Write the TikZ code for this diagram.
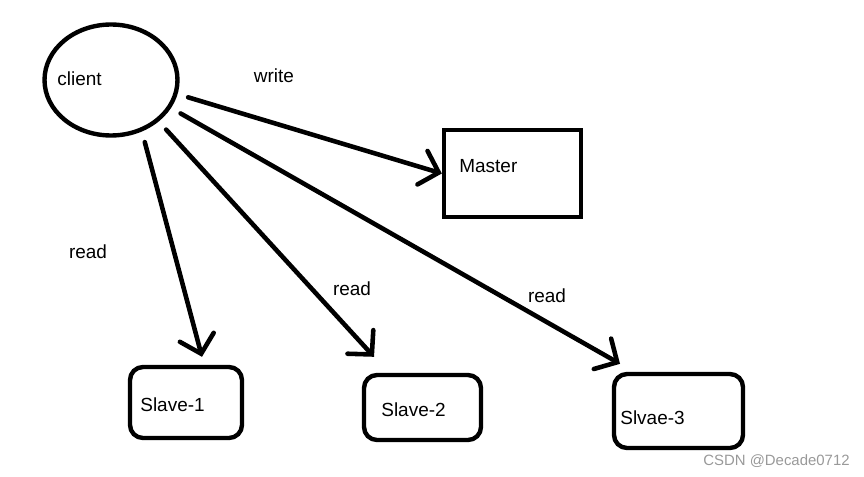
\documentclass[tikz,border=0pt]{standalone}
\usepackage{fontspec}
\setmainfont{Liberation Sans}
\usetikzlibrary{shapes.geometric}
\usetikzlibrary{arrows.meta}
\usetikzlibrary{positioning}

\begin{document}
\begin{tikzpicture}
        [x=0.02cm, y=-0.02cm,
         every node/.style={font=\fontsize{10.8}{12}\selectfont},
         ovalbox/.style={ellipse, draw, line width=2.5pt, inner sep=0pt},
         masterbox/.style={rectangle, draw, line width=2.5pt, inner sep=0pt},
         slavebox/.style={rectangle, draw, line width=2.5pt, inner sep=0pt, rounded corners=0.26cm},
         lbl/.style={inner sep=0pt},
         wm/.style={inner sep=0pt, text=black!40, font=\fontsize{8.5}{10}\selectfont},
         arr/.style={line width=2.6pt, line cap=round, shorten <=0.22cm,
                     -{Straight Barb[length=0.34cm, width=0.7cm, line cap=round]}}]
        \useasboundingbox (0,0) rectangle (864,476);
        \node [ovalbox, minimum width=2.66cm, minimum height=2.22cm] (client) at (111,80) { };
        \node [masterbox, minimum width=2.74cm, minimum height=1.74cm] (master) at (512.5,173.5) { };
        \node [slavebox, minimum width=2.24cm, minimum height=1.42cm] (slave1) at (186,402.5) { };
        \node [slavebox, minimum width=2.34cm, minimum height=1.3cm] (slave2) at (422.5,407.5) { };
        \node [slavebox, minimum width=2.58cm, minimum height=1.48cm] (slave3) at (678.5,411) { };
        \node [lbl, anchor=west] (clienttxt) at (57,79) {client};
        \node [lbl, anchor=west] (mastertxt) at (459,166) {Master};
        \node [lbl, anchor=west] (slave1txt) at (140,405) {Slave-1};
        \node [lbl, anchor=west] (slave2txt) at (381,410) {Slave-2};
        \node [lbl, anchor=west] (slave3txt) at (620,418) {Slvae-3};
        \draw [arr] (client.-12) -- (master.west);
        \draw [arr] (client.-59) -- ([xshift=0.32cm, yshift=0.16cm]slave1.north);
        \draw [arr] (client.-41) -- ([xshift=-0.97cm, yshift=0.32cm]slave2.north);
        \draw [arr] (client.-25) -- ([xshift=-1.17cm, yshift=0.16cm]slave3.north);
        \node [lbl] (writetxt) at (274,76) {write};
        \node [lbl] (read1txt) at (88,252) {read};
        \node [lbl] (read2txt) at (352,289) {read};
        \node [lbl] (read3txt) at (547,296) {read};
        \node [wm, anchor=east] (mark) at (850,461) {CSDN @Decade0712};
    \end{tikzpicture}
\end{document}
